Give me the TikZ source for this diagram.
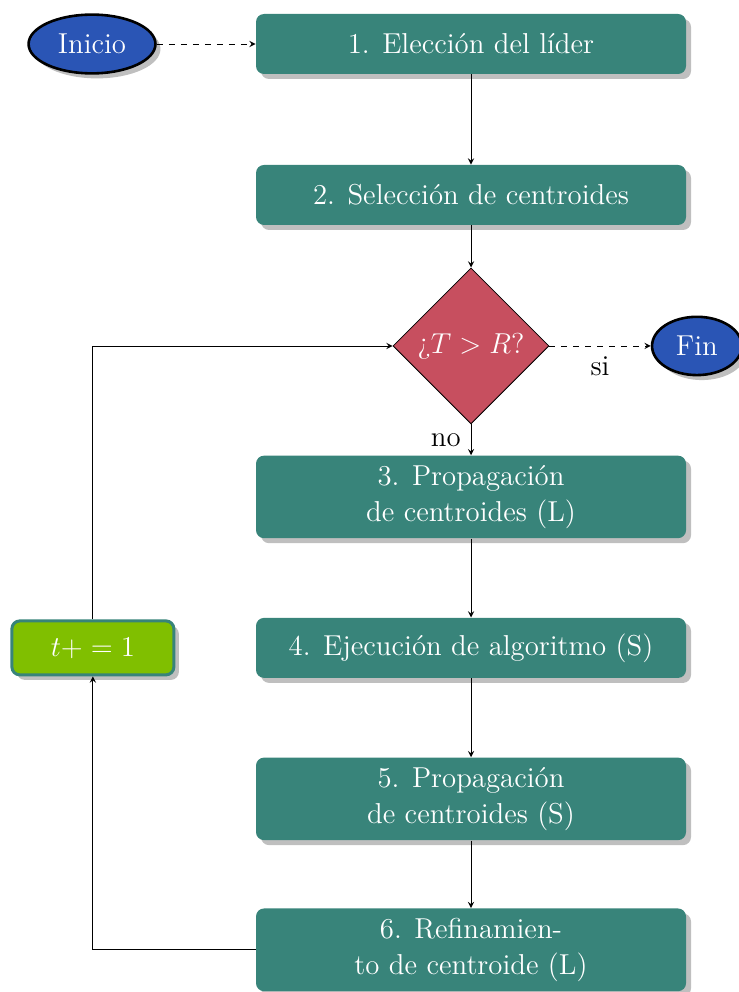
\documentclass[tikz,border=0pt]{standalone}
\usepackage{fontspec}
\usepackage{amsmath}
\usetikzlibrary{positioning,shapes.geometric,shadows}

\definecolor{stepteal}{RGB}{56,132,122}
\definecolor{decred}{RGB}{199,79,95}
\definecolor{termblue}{RGB}{42,85,181}
\definecolor{countgreen}{RGB}{128,191,0}

\begin{document}
\begin{tikzpicture}[
    node distance=2.653cm, on grid,
    greyshadow/.style={drop shadow={fill=black!25, opacity=1, shadow xshift=2.5pt, shadow yshift=-2.5pt}},
    process/.style={rectangle, rounded corners=4pt, fill=stepteal, text=white, font=\Large, inner sep=4.8pt,
        minimum width=215pt, minimum height=30pt, align=center, greyshadow},
    decision/.style={diamond, aspect=1, draw=black, fill=decred, text=white, font=\Large,
        minimum width=78pt, minimum height=78pt, inner sep=1pt},
    terminal/.style={ellipse, draw=black, line width=1.3pt, fill=termblue, text=white, font=\Large,
        inner sep=5.4pt, greyshadow},
    counter/.style={rectangle, rounded corners=4pt, draw=stepteal, line width=1.5pt, fill=countgreen,
        text=white, font=\Large, minimum width=81pt, minimum height=27pt, greyshadow},
    line/.style={draw, -stealth},
    labeltext/.style={font=\Large, text=black, inner sep=2pt}
]
    % page size
    \useasboundingbox (0,0) rectangle (12.969,-17.432);

    % draw steps
    \node[process] (lider) at (8.277,-0.773) {1. Elección del líder};
    \node[process, below=of lider] (seleccion) {2. Selección de centroides};
    \node[decision, below=of seleccion] (cond) {¿$T>R$?};
    \node[process, below=of cond] (propL) {3. Propagación\\de centroides (L)};
    \node[process, below=of propL] (algS) {4. Ejecución de algoritmo (S)};
    \node[process, below=of algS] (propS) {5. Propagación\\de centroides (S)};
    \node[process, below=of propS] (refL) {6. Refinamien-\\to de centroide (L)};

    % draw start, end and counter
    \node[terminal, left=6.66cm of lider] (inicio) {Inicio};
    \node[terminal, right=3.97cm of cond] (fin) {Fin};
    \node[counter, left=6.645cm of algS] (inc) {$t+=1$};

    % draw connectors
    \draw[line, dashed] (inicio) -- (lider);
    \draw[line] (lider) -- (seleccion);
    \draw[line] (seleccion) -- (cond);
    \draw[line] (cond) -- node[labeltext, left=3pt] {no} (propL);
    \draw[line, dashed] (cond) -- node[labeltext, below=3pt] {si} (fin);
    \draw[line] (propL) -- (algS);
    \draw[line] (algS) -- (propS);
    \draw[line] (propS) -- (refL);
    \draw[line] (refL) -| (inc);
    \draw[line] (inc) |- (cond);
\end{tikzpicture}
\end{document}
